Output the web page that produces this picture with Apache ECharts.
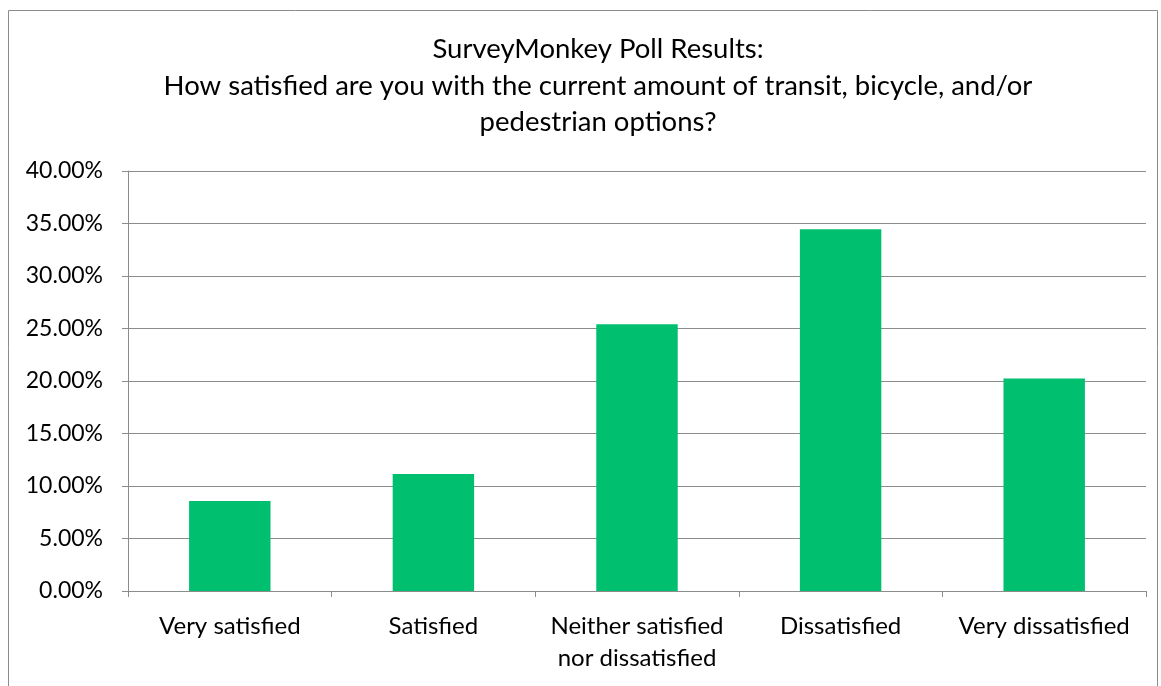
<!DOCTYPE html>
<html><head><meta charset="utf-8">
<script src="https://cdn.jsdelivr.net/npm/echarts@6/dist/echarts.min.js"></script>
<style>html,body{margin:0;padding:0;background:#fff}#c{width:1161px;height:686px}</style>
</head><body><div id="c"></div>
<script>
const categories = ['Very satisfied', 'Satisfied', 'Neither satisfied\nnor dissatisfied', 'Dissatisfied', 'Very dissatisfied'];
const values = [8.56, 11.15, 25.41, 34.46, 20.23];
const titleText = 'SurveyMonkey Poll Results:\nHow satisfied are you with the current amount of transit, bicycle, and/or\npedestrian options?';
const font = 'Lato';
const chart = echarts.init(document.getElementById('c'), null, {renderer: 'canvas'});
chart.setOption({
  animation: false,
  backgroundColor: '#fff',
  graphic: [{type: 'rect', shape: {x: 8.5, y: 10.5, width: 1149, height: 690}, style: {fill: 'none', stroke: '#8c8c8c', lineWidth: 1}, silent: true}],
  title: {
    text: titleText, left: 593, top: 26, textAlign: 'center',
    textStyle: {fontFamily: font, fontSize: 27.5, fontWeight: 'normal', color: '#000', lineHeight: 36.5}
  },
  grid: {left: 128, right: 15, top: 171, bottom: 95, containLabel: false},
  xAxis: {
    type: 'category', data: categories,
    axisLine: {lineStyle: {color: '#8c8c8c', width: 1}},
    axisTick: {show: true, alignWithLabel: false, length: 6, lineStyle: {color: '#8c8c8c'}},
    axisLabel: {fontFamily: font, fontSize: 24, color: '#000', margin: 19, lineHeight: 32, interval: 0}
  },
  yAxis: {
    type: 'value', min: 0, max: 40, interval: 5,
    axisLine: {show: true, lineStyle: {color: '#8c8c8c', width: 1}},
    axisTick: {show: true, length: 6, lineStyle: {color: '#8c8c8c'}},
    axisLabel: {fontFamily: font, fontSize: 23, color: '#000', margin: 25, formatter: v => v.toFixed(2) + '%'},
    splitLine: {show: true, lineStyle: {color: '#8c8c8c', width: 1}}
  },
  series: [{
    type: 'bar', data: values, barWidth: '40%',
    itemStyle: {color: '#00BF6F'}
  }]
});
</script></body></html>
